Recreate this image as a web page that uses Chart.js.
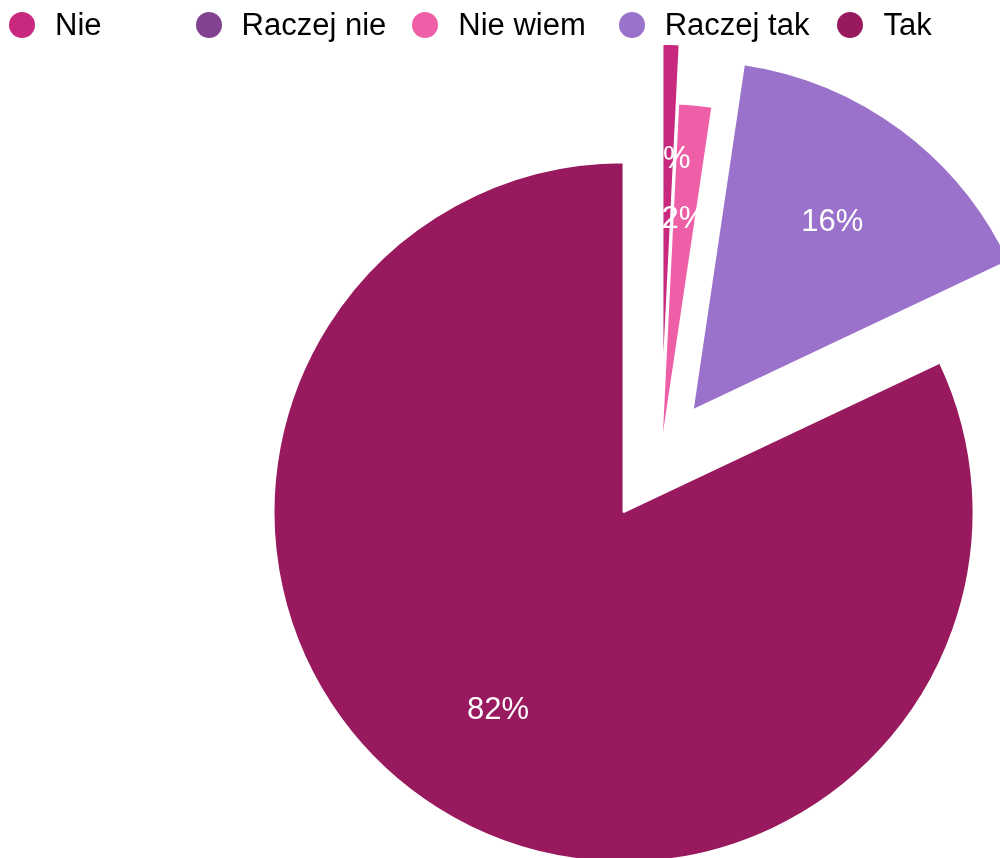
<!DOCTYPE html>
<html>
<head>
<meta charset="utf-8">
<script src="https://cdn.jsdelivr.net/npm/chart.js@4.4.1/dist/chart.umd.min.js"></script>
<style>
    html, body { margin: 0; padding: 0; background: #fff; overflow: hidden; }
    #wrap { position: relative; width: 1000px; height: 858px; }
    #legend {
        position: absolute; top: 0; left: 0; right: 0; height: 50px;
        display: flex; align-items: center; padding-left: 9px;
        font-family: "Liberation Sans", Arial, sans-serif; font-size: 31px; color: #000;
    }
    .item { display: flex; align-items: center; margin-right: 28px; }
    .item:nth-child(1) { margin-right: 94px; }
    .item:nth-child(2) { margin-right: 26px; }
    .item:nth-child(3) { margin-right: 33px; }
    .dot { width: 26px; height: 26px; border-radius: 50%; margin-right: 20px; }
</style>
</head>
<body>
<div id="wrap">
    <canvas id="pie"></canvas>
    <div id="legend"></div>
</div>
<script>
const labels = ["Nie", "Raczej nie", "Nie wiem", "Raczej tak", "Tak"];
const answers = [1, 0, 2, 20, 105];
const colors = ["#c8297e", "#82428f", "#ef5fa7", "#9b72cb", "#98195d"];

// how far each slice is pulled out of the pie (px)
const explode = [59, 0, 0, 53, 70];

const total = answers.reduce((a, b) => a + b, 0);

let legend = document.getElementById("legend");
labels.forEach((label, i) => {
    legend.innerHTML += `<div class="item"><span class="dot" style="background:${colors[i]}"></span>${label}</div>`;
});

// move slices out along their middle angle, without growing the radius like offset does
const explodePlugin = {
    id: "explode",
    afterDatasetUpdate(chart, args) {
        args.meta.data.forEach((arc, i) => {
            let mid = (arc.startAngle + arc.endAngle) / 2;
            arc.x += Math.cos(mid) * explode[i];
            arc.y += Math.sin(mid) * explode[i];
        });
    }
};

const percentLabels = {
    id: "percentLabels",
    afterDatasetsDraw(chart) {
        const ctx = chart.ctx;
        const meta = chart.getDatasetMeta(0);
        ctx.save();
        ctx.fillStyle = "#fff";
        ctx.font = '31px "Liberation Sans", Arial, sans-serif';
        ctx.textAlign = "center";
        ctx.textBaseline = "middle";
        meta.data.forEach((arc, i) => {
            if (answers[i] === 0) return;
            let mid = (arc.startAngle + arc.endAngle) / 2;
            let r = arc.outerRadius * 0.67;
            let text = Math.round(answers[i] / total * 100) + "%";
            ctx.fillText(text, arc.x + Math.cos(mid) * r, arc.y + Math.sin(mid) * r);
        });
        ctx.restore();
    }
};

new Chart(document.getElementById("pie"), {
    type: "pie",
    data: {
        labels: labels,
        datasets: [{
            data: answers,
            backgroundColor: colors,
            borderColor: "#fff",
            borderWidth: 2,
            radius: 350
        }]
    },
    options: {
        responsive: true,
        maintainAspectRatio: false,
        animation: false,
        layout: { padding: { left: 322, top: 48, right: 0, bottom: 0 } },
        plugins: {
            legend: { display: false },
            tooltip: { enabled: false }
        }
    },
    plugins: [explodePlugin, percentLabels]
});
</script>
</body>
</html>
